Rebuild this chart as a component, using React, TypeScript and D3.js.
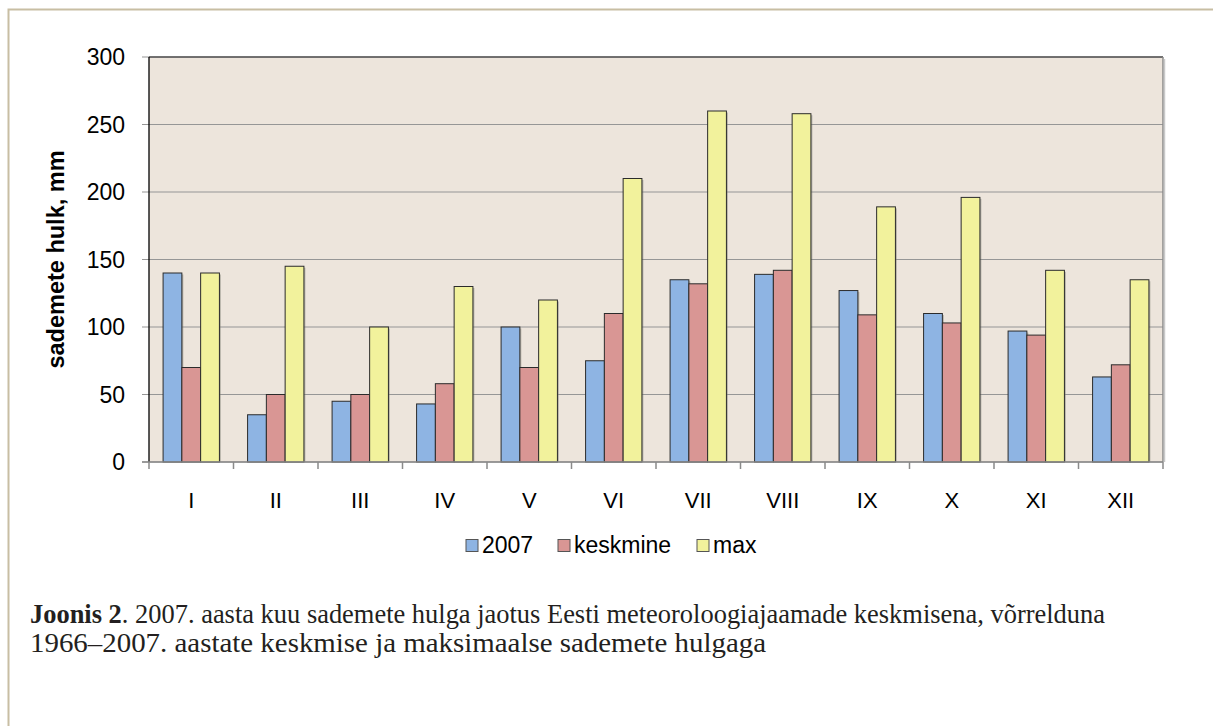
import React from "react";
import * as d3 from "d3";

const months = ["I", "II", "III", "IV", "V", "VI", "VII", "VIII", "IX", "X", "XI", "XII"];
const values2007 = [140, 35, 45, 43, 100, 75, 135, 139, 127, 110, 97, 63];
const valuesMean = [70, 50, 50, 58, 70, 110, 132, 142, 109, 103, 94, 72];
const valuesMax = [140, 145, 100, 130, 120, 210, 260, 258, 189, 196, 142, 135];
const seriesNames = ["2007", "keskmine", "max"];
const seriesColors = ["#8EB4E3", "#D99694", "#F2F29C"];
const yTicks = [0, 50, 100, 150, 200, 250, 300];

const W = 1213;
const H = 726;
const plot = { left: 149, top: 57, right: 1163, bottom: 462 };
const sans = "'Liberation Sans', Arial, sans-serif";
const serif = "'Liberation Serif', 'DejaVu Serif', serif";

export default function App() {
  const series = [values2007, valuesMean, valuesMax];
  const x0 = d3.scaleBand<string>().domain(months).range([plot.left, plot.right]).paddingInner(0).paddingOuter(0);
  const inner = x0.bandwidth() / 4.5;
  const x1 = d3
    .scaleBand<number>()
    .domain([0, 1, 2])
    .range([inner * 0.75, x0.bandwidth() - inner * 0.75])
    .padding(0);
  const y = d3.scaleLinear().domain([0, 300]).range([plot.bottom, plot.top]);

  const legendItems = [
    { x: 466, tx: 482 },
    { x: 558, tx: 574 },
    { x: 697, tx: 713 },
  ];

  return (
    <svg width={W} height={H} style={{ position: "absolute", left: 0, top: 0, background: "#fff" }}>
      {/* outer figure border */}
      <path d={`M${W + 5},9.5 H8.5 V${H + 5}`} fill="none" stroke="#c8bea3" strokeWidth={2} />

      {/* plot background */}
      <rect x={plot.left} y={plot.top} width={plot.right - plot.left} height={plot.bottom - plot.top} fill="#EDE5DC" />
      {/* gridlines */}
      {yTicks.map((t) => (
        <line key={"g" + t} x1={plot.left - 7} x2={plot.right} y1={y(t)} y2={y(t)} stroke="#969696" strokeWidth={1.2} />
      ))}
      {/* plot border: top dark, right gray */}
      <line x1={plot.left} x2={plot.right} y1={plot.top} y2={plot.top} stroke="#555" strokeWidth={1.3} />
      <line x1={plot.right} x2={plot.right} y1={plot.top} y2={plot.bottom} stroke="#8a8a8a" strokeWidth={1.5} />
      <line x1={plot.right + 1.5} x2={plot.right + 1.5} y1={plot.top + 2} y2={plot.bottom} stroke="#c9c9c9" strokeWidth={1.5} />

      {/* bars */}
      {months.map((m, i) => (
        <g key={m} transform={`translate(${x0(m)},0)`}>
          {series.map((s, k) => {
            const bx = x1(k)!;
            const bw = x1.bandwidth();
            const top = y(s[i]);
            return (
              <g key={k}>
                <rect x={bx + 1.5} y={top + 1.5} width={bw} height={plot.bottom - top - 1.5} fill="#7d7d70" opacity={0.45} />
                <rect x={bx} y={top} width={bw} height={plot.bottom - top} fill={seriesColors[k]} stroke="#2b2b2b" strokeWidth={1} />
              </g>
            );
          })}
        </g>
      ))}

      {/* y axis */}
      <line x1={plot.left} x2={plot.left} y1={plot.top} y2={plot.bottom} stroke="#000" strokeWidth={1.3} />
      <line x1={plot.left - 7} x2={plot.right} y1={plot.bottom} y2={plot.bottom} stroke="#8a8a8a" strokeWidth={1.5} />
      {yTicks.map((t) => (
        <text key={"yl" + t} x={125} y={y(t)} dy="0.36em" textAnchor="end" fontFamily={sans} fontSize={23} fill="#000">
          {t}
        </text>
      ))}
      {/* category ticks */}
      {months.map((m, i) => (
        <line key={"ct" + i} x1={x0(m)!} x2={x0(m)!} y1={plot.bottom} y2={plot.bottom + 7} stroke="#8a8a8a" strokeWidth={1.5} />
      ))}
      <line x1={plot.right} x2={plot.right} y1={plot.bottom} y2={plot.bottom + 7} stroke="#8a8a8a" strokeWidth={1.5} />
      {months.map((m) => (
        <text key={"xl" + m} x={x0(m)! + x0.bandwidth() / 2} y={508} textAnchor="middle" fontFamily={sans} fontSize={22} fill="#000">
          {m}
        </text>
      ))}

      {/* y title */}
      <text
        transform={`translate(64,${(plot.top + plot.bottom) / 2}) rotate(-90)`}
        textAnchor="middle"
        fontFamily={sans}
        fontWeight="bold"
        fontSize={23.5}
        fill="#000"
      >
        sademete hulk, mm
      </text>

      {/* legend */}
      {seriesNames.map((n, k) => (
        <g key={n}>
          <rect x={legendItems[k].x} y={539.5} width={12} height={12} fill={seriesColors[k]} stroke="#555" strokeWidth={1} />
          <text x={legendItems[k].tx} y={553} fontFamily={sans} fontSize={23} fill="#000">
            {n}
          </text>
        </g>
      ))}

      {/* caption */}
      <text x={30} y={623} fontFamily={serif} fontSize={28} fill="#231f20" textLength={1075} lengthAdjust="spacingAndGlyphs">
        <tspan fontWeight="bold">Joonis 2</tspan>
        <tspan>. 2007. aasta kuu sademete hulga jaotus Eesti meteoroloogiajaamade keskmisena, võrrelduna</tspan>
      </text>
      <text x={30} y={652} fontFamily={serif} fontSize={28} fill="#231f20" textLength={736} lengthAdjust="spacingAndGlyphs">
        1966–2007. aastate keskmise ja maksimaalse sademete hulgaga
      </text>
    </svg>
  );
}
